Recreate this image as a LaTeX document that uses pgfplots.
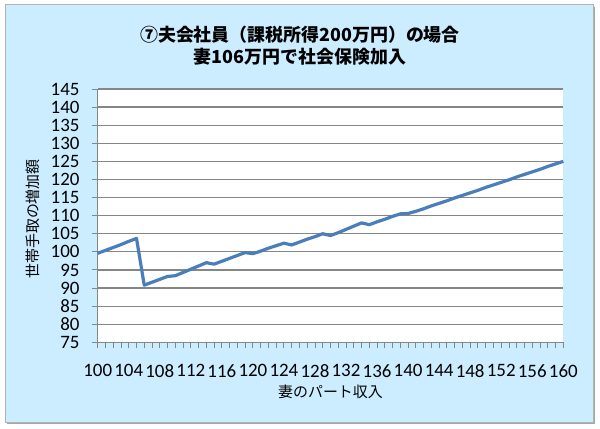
\documentclass[border=0pt]{standalone}
\usepackage{fontspec}
\setmainfont{Carlito}
\newfontfamily\jp{Noto Sans CJK JP}
\usepackage{pgfplots}
\pgfplotsset{compat=1.18}

\definecolor{bgblue}{RGB}{204,236,255}
\definecolor{lineblue}{RGB}{74,126,187}
\definecolor{gridgray}{RGB}{134,134,134}

\begin{document}
\begin{tikzpicture}[x=1bp,y=1bp]
\useasboundingbox (0,0) rectangle (600,428);
\fill[white] (0,0) rectangle (600,428);
% frame with shadow
\fill[gray!70] (7,4) rectangle (595,421);
\fill[bgblue] (5,6) rectangle (593,423);
\draw[gray!60, line width=1bp] (5,6) rectangle (593,423);

\begin{axis}[
    at={(97.7bp,85.7bp)}, anchor=south west,
    scale only axis,
    width=465.6bp, height=253.3bp,
    xmin=100, xmax=160,
    ymin=75, ymax=145,
    xtick={100,104,...,160},
    minor x tick num=3,
    ytick={75,80,...,145},
    axis x line*=bottom,
    axis y line*=left,
    axis line style={gridgray, line width=1.2bp, -},
    axis background/.style={fill=white},
    ymajorgrids,
    major grid style={gridgray, line width=1.2bp},
    tick align=outside,
    major tick length=6bp,
    minor tick length=6bp,
    tick style={gridgray, line width=0.9bp},
    minor tick style={gridgray, line width=0.9bp},
    /pgf/number format/assume math mode=true,
    /pgf/number format/.cd, 1000 sep={}, /pgfplots/.cd,
    tick label style={font=\fontsize{19}{19}\selectfont, black},
    xticklabel style={inner sep=0pt, yshift=-16bp},
    yticklabel style={inner sep=0pt, xshift=-12bp},
    title={⑦夫会社員（課税所得200万円）の場合\\妻106万円で社会保険加入},
    title style={at={(axis description cs:0.4345,1.148)}, anchor=center,
        align=center, font=\jp\bfseries\fontsize{18}{21.5}\selectfont},
    xlabel={妻のパート収入},
    xlabel style={at={(axis description cs:0.5,-0.196)}, anchor=center,
        font=\jp\fontsize{15}{15}\selectfont},
    ylabel={世帯手取の増加額},
    ylabel style={at={(axis description cs:-0.139,0.487)}, anchor=center,
        rotate=0, font=\jp\fontsize{15}{15}\selectfont},
    clip=false,
]
\addplot[lineblue, line width=3.2bp, line join=round, mark=none] coordinates {
(100,99.6) (101,100.4) (102,101.2) (103,102.0) (104,102.9) (105,103.7)
(106,90.8) (107,91.6) (108,92.4) (109,93.2) (110,93.4)
(111,94.3) (112,95.2) (113,96.1) (114,97.0) (115,96.6)
(116,97.4) (117,98.2) (118,99.0) (119,99.8) (120,99.5)
(121,100.2) (122,101.0) (123,101.7) (124,102.4) (125,101.9)
(126,102.7) (127,103.5) (128,104.2) (129,105.0) (130,104.5)
(131,105.3) (132,106.2) (133,107.1) (134,108.0) (135,107.5)
(136,108.3) (137,109.0) (138,109.8) (139,110.5) (140,110.6)
(141,111.2) (142,111.9) (143,112.7) (144,113.4) (145,114.1)
(146,114.9) (147,115.6) (148,116.3) (149,117.0) (150,117.8)
(151,118.5) (152,119.2) (153,119.9) (154,120.7) (155,121.4)
(156,122.1) (157,122.8) (158,123.6) (159,124.3) (160,125.0)
};
\end{axis}
\end{tikzpicture}
\end{document}
